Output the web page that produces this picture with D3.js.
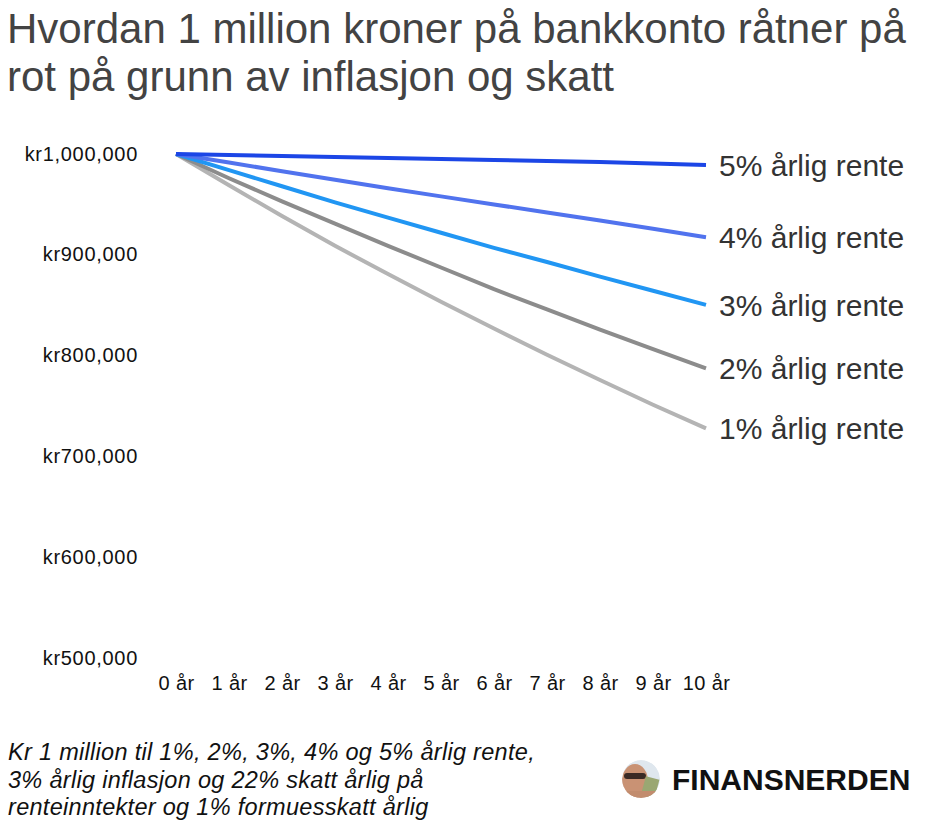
<!DOCTYPE html>
<html>
<head>
<meta charset="utf-8">
<script src="https://cdn.jsdelivr.net/npm/d3@7"></script>
<style>
  html, body { margin: 0; padding: 0; background: #fff; }
  svg { display: block; font-family: "Liberation Sans", Arial, sans-serif; }
</style>
</head>
<body>
<svg id="chart" width="930" height="828"></svg>
<script>
// ---- data ----
const years = [0, 1, 2, 3, 4, 5, 6, 7, 8, 9, 10];
const yearLabels = ["0 år", "1 år", "2 år", "3 år", "4 år", "5 år", "6 år", "7 år", "8 år", "9 år", "10 år"];
const yTicks = [500000, 600000, 700000, 800000, 900000, 1000000];
const seriesNames = ["5% årlig rente", "4% årlig rente", "3% årlig rente", "2% årlig rente", "1% årlig rente"];
const rente5 = [1000000, 999000, 998000, 997000, 996000, 995000, 994000, 993000, 992000, 990500, 989000];
const rente4 = [1000000, 991500, 983000, 974500, 966000, 958000, 950000, 942000, 934000, 926000, 917500];
const rente3 = [1000000, 984000, 968000, 952000, 937000, 922000, 907000, 893000, 878500, 864500, 850500];
const rente2 = [1000000, 976000, 953000, 931000, 909000, 887500, 866000, 846000, 826000, 806500, 787500];
const rente1 = [1000000, 969000, 938500, 909000, 881000, 853500, 827000, 801000, 776000, 751500, 728000];
const seriesColors = ["#1c46e6", "#5173ee", "#2196f3", "#8c8c8c", "#b4b4b4"];
const titleLines = ["Hvordan 1 million kroner på bankkonto råtner på", "rot på grunn av inflasjon og skatt"];
const noteLines = ["Kr 1 million til 1%, 2%, 3%, 4% og 5% årlig rente,", "3% årlig inflasjon og 22% skatt årlig på", "renteinntekter og 1% formuesskatt årlig"];
const brand = "FINANSNERDEN";

const series = [rente5, rente4, rente3, rente2, rente1].map((vals, i) => ({
  name: seriesNames[i], color: seriesColors[i],
  points: years.map((yr, j) => ({ year: yr, value: vals[j] }))
}));

const svg = d3.select("#chart");

// title
svg.append("g").selectAll("text").data(titleLines).join("text")
  .attr("x", 7).attr("y", (d, i) => 43 + i * 48)
  .attr("font-size", 42).attr("fill", "#434343")
  .text(d => d);

// scales
const x = d3.scaleLinear().domain([0, 10]).range([176, 706]);
const y = d3.scaleLinear().domain([500000, 1000000]).range([658.5, 154]);

// y axis
const yAxis = svg.append("g").attr("transform", "translate(138,0)")
  .call(d3.axisLeft(y).tickValues(yTicks).tickSize(0).tickPadding(0)
    .tickFormat(v => "kr" + d3.format(",")(v)));
yAxis.select(".domain").remove();
yAxis.selectAll("text").attr("font-family", "Liberation Sans, Arial, sans-serif")
  .attr("font-size", 20).attr("letter-spacing", 0.7).attr("fill", "#111")
  .attr("dy", "0.3em");

// x axis
const xAxis = svg.append("g").attr("transform", "translate(0,680)")
  .call(d3.axisBottom(x).tickValues(years).tickSize(0).tickPadding(0)
    .tickFormat((d, i) => yearLabels[i]));
xAxis.select(".domain").remove();
xAxis.selectAll("text").attr("font-family", "Liberation Sans, Arial, sans-serif")
  .attr("font-size", 20).attr("letter-spacing", 0.4).attr("fill", "#111").attr("dy", "0.5em");

// lines
const line = d3.line().x(d => x(d.year)).y(d => y(d.value));
svg.append("g").selectAll("path").data(series.slice().reverse()).join("path")
  .attr("d", d => line(d.points))
  .attr("fill", "none").attr("stroke", d => d.color)
  .attr("stroke-width", 4).attr("stroke-linejoin", "round").attr("stroke-linecap", "butt");

// end labels
svg.append("g").selectAll("text").data(series).join("text")
  .attr("x", d => x(d.points[d.points.length - 1].year) + 13)
  .attr("y", d => y(d.points[d.points.length - 1].value))
  .attr("dy", "0.36em")
  .attr("font-size", 30).attr("fill", "#333")
  .text(d => d.name);

// footnote
svg.append("g").selectAll("text").data(noteLines).join("text")
  .attr("x", 8).attr("y", (d, i) => 760 + i * 27.5)
  .attr("font-size", 23.5).attr("font-style", "italic").attr("fill", "#111")
  .attr("letter-spacing", 0.3)
  .text(d => d);

// brand logo
const logo = svg.append("g").attr("transform", "translate(641,779)");
const defs = svg.append("defs");
defs.append("clipPath").attr("id", "logoClip").append("circle").attr("r", 19);
const lg = logo.append("g").attr("clip-path", "url(#logoClip)");
lg.append("circle").attr("r", 19).attr("fill", "#dfe7ee");
lg.append("ellipse").attr("cx", -6).attr("cy", 2).attr("rx", 13).attr("ry", 17).attr("fill", "#c99274");
lg.append("rect").attr("x", -17).attr("y", -6).attr("width", 22).attr("height", 6).attr("rx", 3).attr("fill", "#3a2a25");
lg.append("rect").attr("x", 4).attr("y", -4).attr("width", 14).attr("height", 20).attr("fill", "#9aa772").attr("transform", "rotate(15)");
lg.append("rect").attr("x", -16).attr("y", 12).attr("width", 34).attr("height", 10).attr("fill", "#c28c6e");
logo.append("text").attr("x", 31).attr("y", 11).attr("font-size", 30).attr("font-weight", "bold")
  .attr("fill", "#111").text(brand);
</script>
</body>
</html>
